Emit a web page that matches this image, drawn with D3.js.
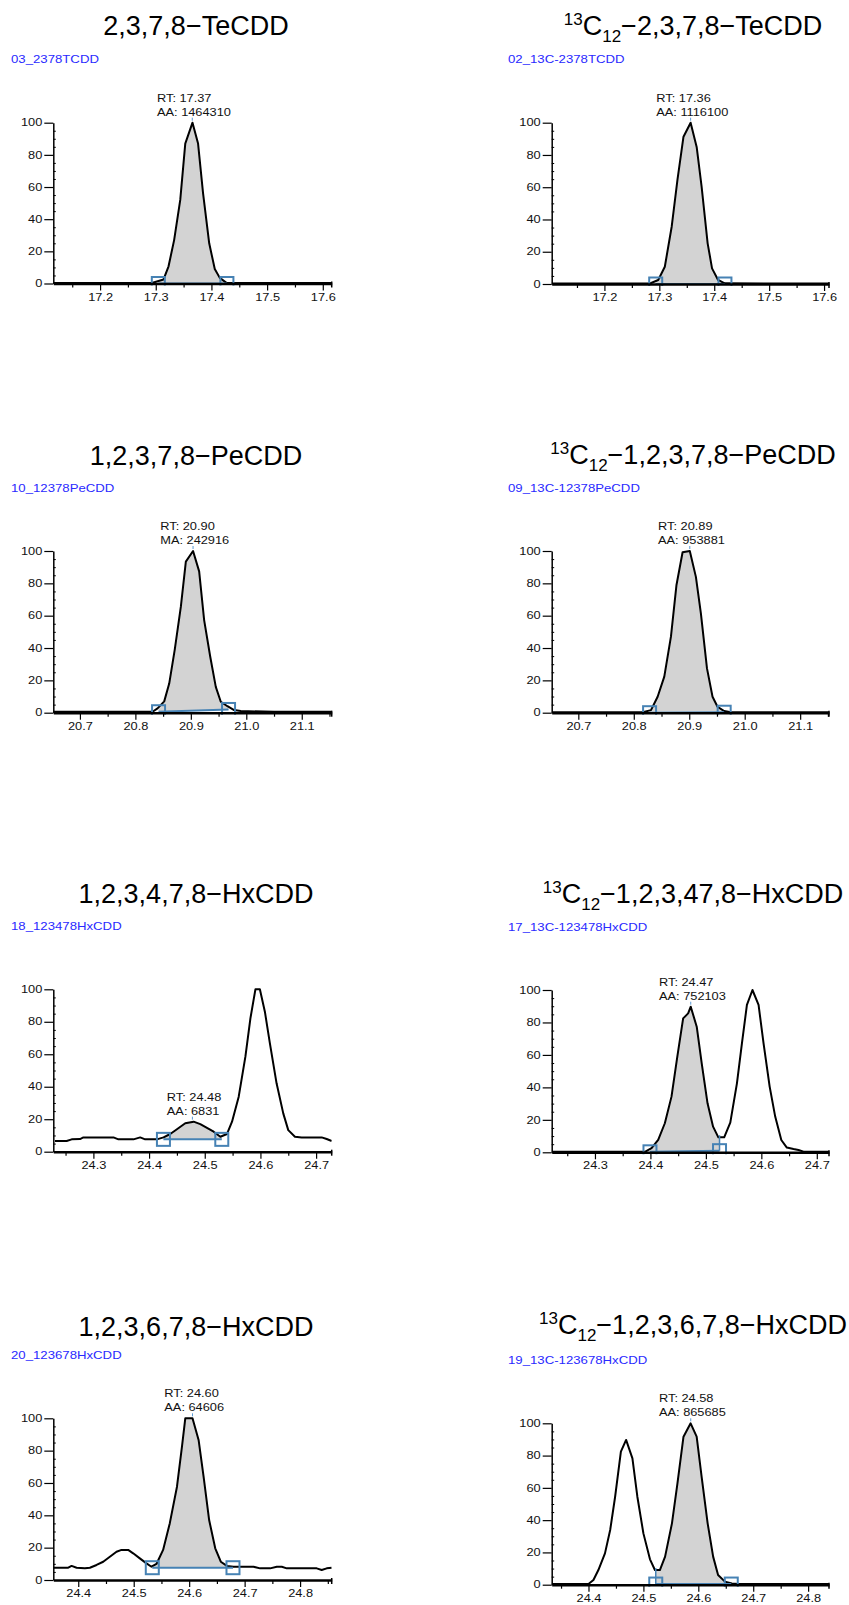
<!DOCTYPE html>
<html>
<head>
<meta charset="utf-8">
<script src="https://cdn.jsdelivr.net/npm/d3@7"></script>
<style>
  body { margin: 0; background: #fff; }
  svg { display: block; font-family: "Liberation Sans", Arial, sans-serif; }
</style>
</head>
<body>
<script>
// ---- data ----
var compounds = ["2,3,7,8−TeCDD", "2,3,7,8−TeCDD", "1,2,3,7,8−PeCDD", "1,2,3,7,8−PeCDD",
                 "1,2,3,4,7,8−HxCDD", "1,2,3,47,8−HxCDD", "1,2,3,6,7,8−HxCDD", "1,2,3,6,7,8−HxCDD"];
var labelled = [false, true, false, true, false, true, false, true];   // 13C12 standard
var compoundIds = ["03_2378TCDD", "02_13C-2378TCDD", "10_12378PeCDD", "09_13C-12378PeCDD",
                   "18_123478HxCDD", "17_13C-123478HxCDD", "20_123678HxCDD", "19_13C-123678HxCDD"];
var rtLabels = ["RT: 17.37", "RT: 17.36", "RT: 20.90", "RT: 20.89", "RT: 24.48", "RT: 24.47", "RT: 24.60", "RT: 24.58"];
var areaLabels = ["AA: 1464310", "AA: 1116100", "MA: 242916", "AA: 953881", "AA: 6831", "AA: 752103", "AA: 64606", "AA: 865685"];

var xMin = [17.116, 17.104, 20.652, 20.652, 24.228, 24.222, 24.355, 24.333];
var xMax = [17.616, 17.609, 21.154, 21.152, 24.728, 24.722, 24.857, 24.838];
var majorTicks = [
  [17.2, 17.3, 17.4, 17.5, 17.6], [17.2, 17.3, 17.4, 17.5, 17.6],
  [20.7, 20.8, 20.9, 21.0, 21.1], [20.7, 20.8, 20.9, 21.0, 21.1],
  [24.3, 24.4, 24.5, 24.6, 24.7], [24.3, 24.4, 24.5, 24.6, 24.7],
  [24.4, 24.5, 24.6, 24.7, 24.8], [24.4, 24.5, 24.6, 24.7, 24.8]
];
var minorTicks = [
  [17.15, 17.25, 17.35, 17.45, 17.55], [17.15, 17.25, 17.35, 17.45, 17.55],
  [20.75, 20.85, 20.95, 21.05, 21.15], [20.75, 20.85, 20.95, 21.05, 21.15],
  [24.25, 24.35, 24.45, 24.55, 24.65], [24.25, 24.35, 24.45, 24.55, 24.65],
  [24.45, 24.55, 24.65, 24.75, 24.85], [24.35, 24.45, 24.55, 24.65, 24.75]
];
var yMajor = [0, 20, 40, 60, 80, 100];
var yMinor = [5, 10, 15, 25, 30, 35, 45, 50, 55, 65, 70, 75, 85, 90, 95];

var tcddRT  = [17.116, 17.20, 17.293, 17.314, 17.323, 17.333, 17.344, 17.353, 17.366, 17.376, 17.385, 17.396, 17.406, 17.415, 17.427, 17.50, 17.616];
var tcddInt = [0.3, 0.3, 0.3, 2.5, 10.7, 27, 52, 87, 100, 87, 56, 25, 9, 3.5, 0.4, 0.3, 0.3];

var tcddLRT  = [17.104, 17.20, 17.283, 17.298, 17.310, 17.3225, 17.333, 17.344, 17.357, 17.368, 17.377, 17.388, 17.396, 17.407, 17.419, 17.50, 17.609];
var tcddLInt = [0.3, 0.3, 0.3, 2.5, 10.7, 35.5, 64.5, 91.3, 100, 85, 60.3, 25.2, 9.7, 2.5, 0.4, 0.3, 0.3];

var pecddRT  = [20.652, 20.75, 20.831, 20.840, 20.852, 20.861, 20.871, 20.882, 20.891, 20.904, 20.915, 20.924, 20.935, 20.945, 20.954, 20.966, 20.978, 20.99, 21.05, 21.154];
var pecddInt = [0.6, 0.6, 0.6, 2.7, 7, 18, 39, 65.6, 93.4, 100, 87.4, 57.3, 34.6, 16, 6.8, 4, 1.6, 1, 0.6, 0.6];

var pecddLRT  = [20.652, 20.75, 20.816, 20.831, 20.843, 20.855, 20.867, 20.877, 20.888, 20.901, 20.912, 20.921, 20.932, 20.942, 20.951, 20.963, 20.975, 21.05, 21.152];
var pecddLInt = [0.3, 0.3, 0.3, 1.6, 9.9, 22.3, 47, 79, 99.2, 100, 84, 61.4, 27.4, 9.9, 3.7, 1, 0.3, 0.3, 0.3];

var hx478RT  = [24.231, 24.252, 24.261, 24.276, 24.282, 24.336, 24.345, 24.372, 24.384, 24.393, 24.414, 24.426, 24.438, 24.450, 24.465, 24.480, 24.492, 24.516, 24.528, 24.540, 24.549, 24.561, 24.573, 24.582, 24.591, 24.599, 24.608, 24.617, 24.629, 24.641, 24.650, 24.662, 24.674, 24.710, 24.719, 24.728];
var hx478Int = [6.6, 6.6, 7.6, 7.8, 8.8, 8.8, 7.6, 7.6, 8.8, 7.6, 7.6, 8.8, 10.9, 13.8, 17.5, 18.5, 17, 12.3, 9.2, 10.9, 18.5, 33.9, 58.5, 82.1, 100, 100, 86.2, 66.7, 42.1, 23.6, 13.3, 9.2, 8.8, 8.8, 7.8, 6.6];

var hx478LRT  = [24.222, 24.30, 24.390, 24.402, 24.414, 24.426, 24.438, 24.4485, 24.459, 24.468, 24.4727, 24.4835, 24.4925, 24.503, 24.513, 24.5225, 24.533, 24.544, 24.556, 24.565, 24.574, 24.584, 24.595, 24.604, 24.615, 24.625, 24.636, 24.646, 24.658, 24.667, 24.676, 24.722];
var hx478LInt = [0.3, 0.3, 0.3, 2.5, 7.6, 17.9, 34.3, 58.9, 82.5, 85.6, 89.7, 77.4, 54.8, 30.2, 15.8, 9.2, 9.2, 18.3, 42.5, 67.1, 90.8, 100, 90.8, 67.1, 40.5, 22, 7.6, 2.9, 2, 1.4, 0.4, 0.3];

var hx678RT  = [24.355, 24.382, 24.388, 24.397, 24.412, 24.421, 24.433, 24.445, 24.457, 24.469, 24.478, 24.490, 24.499, 24.511, 24.523, 24.532, 24.541, 24.553, 24.565, 24.578, 24.587, 24.593, 24.606, 24.617, 24.626, 24.636, 24.647, 24.657, 24.668, 24.680, 24.716, 24.728, 24.746, 24.758, 24.767, 24.776, 24.830, 24.839, 24.848, 24.857];
var hx678Int = [7.6, 7.6, 8.7, 7.6, 7.2, 7.6, 9.3, 11.3, 14.4, 17.5, 18.6, 18.6, 16.5, 13.4, 10.3, 8.2, 9.9, 18.6, 35, 57.7, 82.5, 100, 100, 86.6, 63.9, 37.1, 19.6, 11.3, 8.7, 8.2, 8.2, 7.2, 7.2, 8.2, 8.2, 7.2, 7.2, 6.2, 7.2, 7.6];

var hx678LRT  = [24.333, 24.39, 24.400, 24.409, 24.418, 24.430, 24.4395, 24.4485, 24.459, 24.4685, 24.48, 24.489, 24.5, 24.512, 24.521, 24.530, 24.5395, 24.552, 24.562, 24.573, 24.586, 24.597, 24.606, 24.617, 24.627, 24.636, 24.6485, 24.661, 24.673, 24.838];
var hx678LInt = [0.4, 0.4, 0.4, 2.9, 9.1, 19.4, 33.9, 54.5, 82.4, 89.7, 78.3, 54.5, 31.8, 15.7, 9.1, 9.1, 17.4, 38, 62.8, 91.7, 100, 91.7, 66.9, 38, 17.4, 6, 1.9, 0.8, 0.4, 0.4];

var traceRT  = [tcddRT, tcddLRT, pecddRT, pecddLRT, hx478RT, hx478LRT, hx678RT, hx678LRT];
var traceInt = [tcddInt, tcddLInt, pecddInt, pecddLInt, hx478Int, hx478LInt, hx678Int, hx678LInt];

// integration window + baseline, peak apex
var intStart  = [17.3046, 17.2934, 20.8418, 20.8285, 24.4258, 24.3992, 24.5335, 24.5225];
var intEnd    = [17.4278, 17.4195, 20.968, 20.963, 24.5306, 24.5246, 24.679, 24.660];
var baseStart = [0, 0, 0.6, 0, 7.6, 0.3, 7.6, 0.4];
var baseEnd   = [0, 0, 2.0, 0.3, 7.6, 1.0, 7.6, 0.4];
var dropSide  = [null, null, null, null, null, "end", null, "start"];
var apexRT  = [17.3656, 17.357, 20.904, 20.901, 24.4778, 24.4727, 24.606, 24.5862];
var apexInt = [100, 100, 100, 100, 18.5, 89.7, 100, 100];

// ---- layout ----
var W = 849, H = 1605;
var SX = 1.28;                       // report text is stretched horizontally
var axisLeft = [53.3, 551.7], axisRight = [331.7, 829];
var yTop    = [122.7, 122.7, 551, 551, 989.3, 990, 1418.3, 1423.3];
var yBottom = [283.5, 284, 712.7, 712.7, 1151.7, 1152.3, 1580, 1584.7];
var titleX = [196, 693];
var titleY = [35, 35, 465, 464, 903.3, 903, 1335.7, 1334];
var idX = [11, 508];
var idY = [63, 63, 491.7, 491.7, 930, 931, 1359, 1364];

var svg = d3.select("body").append("svg")
  .attr("width", W)
  .attr("height", H);

svg.append("rect").attr("width", W).attr("height", H).attr("fill", "#fff");

function stretch(sel) {
  sel.each(function() {
    var t = d3.select(this);
    var x0 = +t.attr("x") || 0;
    t.attr("x", 0).attr("transform", "translate(" + x0 + ",0) scale(" + SX + ",1)");
  });
}

function valueAt(pts, r) {
  var b = d3.bisector(function(d) { return d[0]; }).left(pts, r);
  if (b <= 0) return pts[0][1];
  if (b >= pts.length) return pts[pts.length - 1][1];
  var a = pts[b - 1], c = pts[b];
  return a[1] + (r - a[0]) / (c[0] - a[0]) * (c[1] - a[1]);
}

compounds.forEach(function(name, i) {
  var col = i % 2;
  var x = d3.scaleLinear().domain([xMin[i], xMax[i]]).range([axisLeft[col], axisRight[col]]);
  var y = d3.scaleLinear().domain([0, 100]).range([yBottom[i], yTop[i]]);
  var g = svg.append("g");

  // title
  var title = g.append("text")
    .attr("x", titleX[col])
    .attr("y", titleY[i])
    .attr("text-anchor", "middle")
    .style("font-size", "27px")
    .attr("fill", "#000");
  if (labelled[i]) {
    title.append("tspan").style("font-size", "17px").attr("dy", -10).text("13");
    title.append("tspan").attr("dy", 10).text("C");
    title.append("tspan").style("font-size", "17px").attr("dy", 7).text("12");
    title.append("tspan").attr("dy", -7).text("−" + name);
  } else {
    title.append("tspan").text(name);
  }

  // compound id
  g.append("text")
    .attr("transform", "translate(" + idX[col] + "," + idY[i] + ") scale(" + SX + ",1)")
    .style("font-size", "10.3px")
    .attr("fill", "#2a2aff")
    .text(compoundIds[i]);

  var pts = traceRT[i].map(function(r, k) { return [r, traceInt[i][k]]; });

  var clipId = "clip" + i;
  g.append("clipPath").attr("id", clipId)
    .append("rect")
    .attr("x", axisLeft[col])
    .attr("y", yTop[i] - 30)
    .attr("width", axisRight[col] - axisLeft[col])
    .attr("height", yBottom[i] - yTop[i] + 32);
  var plot = g.append("g").attr("clip-path", "url(#" + clipId + ")");

  // integrated area
  var s = intStart[i], e = intEnd[i];
  var upper = [[s, valueAt(pts, s)]]
    .concat(pts.filter(function(p) { return p[0] > s && p[0] < e; }))
    .concat([[e, valueAt(pts, e)]]);
  var poly = upper.map(function(p) { return [x(p[0]), y(p[1])]; })
    .concat([[x(e), y(baseEnd[i])], [x(s), y(baseStart[i])]]);
  plot.append("path")
    .attr("d", "M" + poly.join("L") + "Z")
    .attr("fill", "#d3d3d3");

  // trace
  plot.append("path")
    .datum(pts)
    .attr("d", d3.line().x(function(d) { return x(d[0]); }).y(function(d) { return y(d[1]); }))
    .attr("fill", "none")
    .attr("stroke", "#000")
    .attr("stroke-width", 2)
    .attr("stroke-linejoin", "round");

  // integration baseline, drop line and markers
  plot.append("line")
    .attr("x1", x(s)).attr("y1", y(baseStart[i]))
    .attr("x2", x(e)).attr("y2", y(baseEnd[i]))
    .attr("stroke", "#4682b4")
    .attr("stroke-width", 2);
  if (dropSide[i]) {
    var dr = dropSide[i] === "end" ? e : s;
    var db = dropSide[i] === "end" ? baseEnd[i] : baseStart[i];
    plot.append("line")
      .attr("x1", x(dr)).attr("x2", x(dr))
      .attr("y1", y(db)).attr("y2", y(valueAt(pts, dr)) - 2)
      .attr("stroke", "#4682b4")
      .attr("stroke-width", 1.5);
  }
  [[s, baseStart[i]], [e, baseEnd[i]]].forEach(function(m) {
    plot.append("rect")
      .attr("x", x(m[0]) - 6.5)
      .attr("y", y(m[1]) - 6.5)
      .attr("width", 13)
      .attr("height", 13)
      .attr("fill", "none")
      .attr("stroke", "#4682b4")
      .attr("stroke-width", 2);
  });

  // x axis
  var gx = g.append("g")
    .attr("transform", "translate(0," + yBottom[i] + ")")
    .attr("font-family", "Liberation Sans, Arial, sans-serif")
    .call(d3.axisBottom(x).tickValues(majorTicks[i]).tickSize(7).tickSizeOuter(0).tickFormat(d3.format(".1f")));
  gx.select(".domain").attr("stroke-width", 2.5);
  gx.selectAll("line").attr("stroke-width", 1.2);
  gx.selectAll("text").attr("fill", "#111");
  stretch(gx.selectAll("text"));

  var minors = minorTicks[i].filter(function(v) { return v >= xMin[i] && v <= xMax[i]; });
  var gxm = g.append("g")
    .attr("transform", "translate(0," + yBottom[i] + ")")
    .call(d3.axisBottom(x).tickValues(minors).tickSize(4).tickFormat(""));
  gxm.select(".domain").remove();
  gxm.selectAll("line").attr("stroke-width", 1.2);

  g.append("line")
    .attr("x1", axisRight[col]).attr("x2", axisRight[col])
    .attr("y1", yBottom[i] - 2).attr("y2", yBottom[i] + 4)
    .attr("stroke", "#000")
    .attr("stroke-width", 1.5);

  // y axis
  var gy = g.append("g")
    .attr("transform", "translate(" + axisLeft[col] + ",0)")
    .attr("font-family", "Liberation Sans, Arial, sans-serif")
    .call(d3.axisLeft(y).tickValues(yMajor).tickSize(9).tickPadding(2).tickSizeOuter(0));
  gy.select(".domain").attr("stroke-width", 1.5);
  gy.selectAll("line").attr("stroke-width", 1.2);
  gy.selectAll("text").attr("fill", "#111");
  stretch(gy.selectAll("text"));

  var gym = g.append("g")
    .attr("transform", "translate(" + axisLeft[col] + ",0)")
    .call(d3.axisRight(y).tickValues(yMinor).tickSize(2.5).tickFormat(""));
  gym.select(".domain").remove();

  // apex marker and annotation
  var ax = x(apexRT[i]), ay = y(apexInt[i]);
  g.append("line")
    .attr("x1", ax).attr("x2", ax)
    .attr("y1", ay - 2).attr("y2", ay - 5)
    .attr("stroke", "#5b9bd5")
    .attr("stroke-width", 1);

  var ann = g.append("text")
    .style("font-size", "10px")
    .attr("fill", "#111");
  ann.append("tspan").attr("x", 0).attr("y", 0).text(rtLabels[i]);
  ann.append("tspan").attr("x", 0).attr("y", 14).text(areaLabels[i]);
  var bw = ann.node().getBBox().width * SX;
  ann.attr("transform", "translate(" + (ax + 2 - bw / 2) + "," + (ay - 7 - 14) + ") scale(" + SX + ",1)");
});
</script>
</body>
</html>
